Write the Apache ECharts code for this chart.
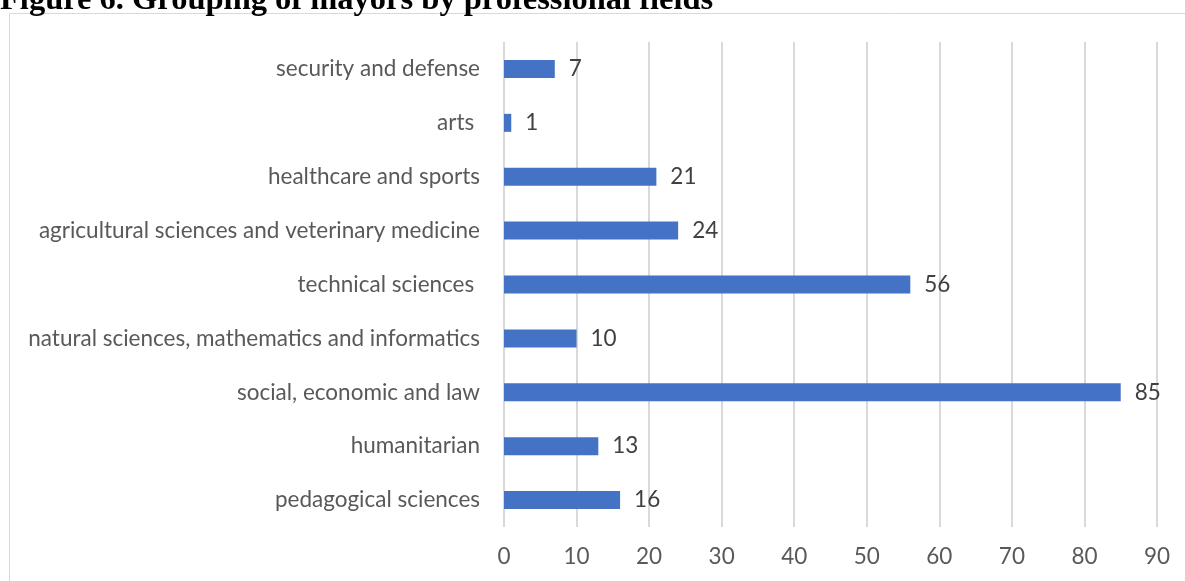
<!DOCTYPE html>
<html>
<head>
<meta charset="utf-8">
<script src="https://cdn.jsdelivr.net/npm/echarts@6/dist/echarts.min.js"></script>
<style>
  html, body { margin: 0; padding: 0; background: #ffffff; }
  #chart { width: 1185px; height: 581px; }
</style>
</head>
<body>
<div id="chart"></div>
<script>
// Professional fields, listed bottom to top as they appear on the category axis
const categories = [
  'pedagogical sciences',
  'humanitarian',
  'social, economic and law',
  'natural sciences, mathematics and informatics',
  'technical sciences ',
  'agricultural sciences and veterinary medicine',
  'healthcare and sports',
  'arts ',
  'security and defense'
];
// Number of mayors in each field
const mayorCounts = [16, 13, 85, 10, 56, 24, 21, 1, 7];
// Value axis ticks
const valueTicks = [0, 10, 20, 30, 40, 50, 60, 70, 80, 90];
const figureTitle = 'Figure 6. Grouping of mayors by professional fields';

const chart = echarts.init(document.getElementById('chart'));
const labelFont = 'Lato, "Open Sans", sans-serif';
const labelSize = 22.5;

chart.setOption({
  animation: false,
  backgroundColor: '#ffffff',
  graphic: [
    {
      type: 'rect',
      shape: { x: 9.5, y: 13.5, width: 1200, height: 600 },
      style: { fill: 'none', stroke: '#d9d9d9', lineWidth: 1 },
      silent: true,
      z: -1
    },
    {
      type: 'text',
      left: 0,
      top: -16,
      style: {
        text: figureTitle,
        font: 'bold 32.5px "Liberation Serif", "Times New Roman", serif',
        fill: '#000000'
      },
      silent: true
    }
  ],
  grid: { left: 504, right: 28, top: 42, bottom: 54, containLabel: false },
  xAxis: {
    type: 'value',
    min: valueTicks[0],
    max: valueTicks[valueTicks.length - 1],
    interval: 10,
    axisLine: { show: false },
    axisTick: { show: false },
    axisLabel: {
      color: '#595959',
      fontFamily: labelFont,
      fontSize: labelSize,
      margin: 18
    },
    splitLine: { show: true, lineStyle: { color: '#d9d9d9', width: 2 } }
  },
  yAxis: {
    type: 'category',
    data: categories,
    axisLine: { show: false },
    axisTick: { show: false },
    axisLabel: {
      color: '#595959',
      fontFamily: labelFont,
      fontSize: labelSize,
      margin: 24
    }
  },
  series: [
    {
      type: 'bar',
      data: mayorCounts,
      barWidth: 18,
      itemStyle: { color: '#4472c4' },
      label: {
        show: true,
        position: 'right',
        distance: 14,
        color: '#404040',
        fontFamily: labelFont,
        fontSize: labelSize
      }
    }
  ]
});
</script>
</body>
</html>
